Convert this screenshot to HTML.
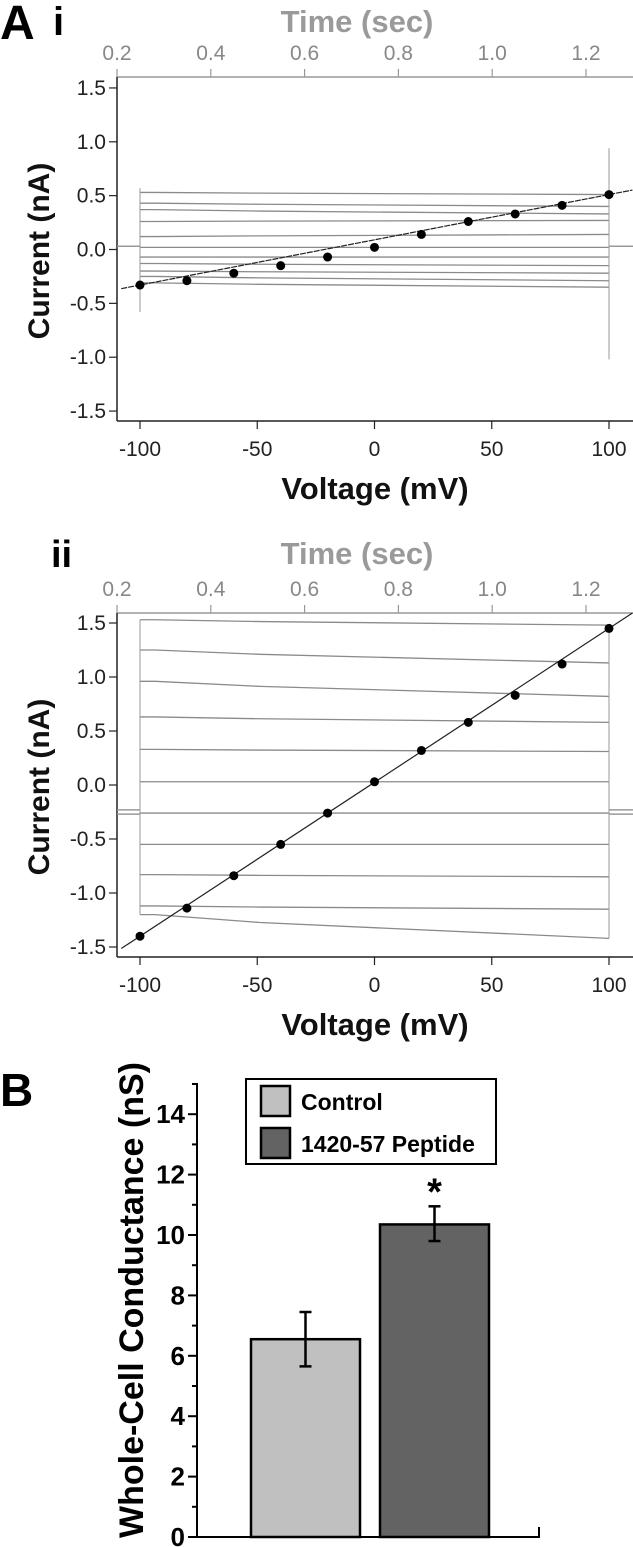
<!DOCTYPE html>
<html><head><meta charset="utf-8">
<style>
html,body{margin:0;padding:0;background:#fff;}
svg{display:block;font-family:"Liberation Sans",Arial,sans-serif;}
</style></head>
<body>
<svg id="fig" width="633" height="1547" viewBox="0 0 633 1547">
<text x="0" y="39" font-size="48" font-weight="bold">A</text>
<text x="53" y="35" font-size="40" font-weight="bold">i</text>
<text x="51" y="567" font-size="38" font-weight="bold">ii</text>
<text x="0" y="1106" font-size="46" font-weight="bold">B</text>
<g id="pA1"></g>
<g id="pA2"></g>
<g id="pB"></g>
</svg>
<script>
// ---- Panel Ai data ----
const voltagesA1 = [-100,-80,-60,-40,-20,0,20,40,60,80,100];
const currentsA1 = [-0.33,-0.29,-0.22,-0.15,-0.07,0.02,0.14,0.26,0.33,0.41,0.51];
const traceStartA1 = [0.53,0.43,0.37,0.26,0.12,0.02,-0.07,-0.13,-0.20,-0.25,-0.31];
const traceEndA1   = [0.51,0.40,0.33,0.27,0.14,0.02,-0.07,-0.15,-0.22,-0.29,-0.35];
const baselineA1 = [0.03];
const spikeA1 = [0.57,-0.58,0.94,-1.02];
// ---- Panel Aii data ----
const voltagesA2 = [-100,-80,-60,-40,-20,0,20,40,60,80,100];
const currentsA2 = [-1.40,-1.14,-0.84,-0.55,-0.26,0.03,0.32,0.58,0.83,1.12,1.45];
const traceStartA2 = [1.53,1.25,0.96,0.63,0.33,0.03,-0.26,-0.55,-0.83,-1.12,-1.20];
const traceEndA2   = [1.48,1.13,0.82,0.58,0.31,0.03,-0.26,-0.55,-0.85,-1.15,-1.42];
const baselineA2 = [-0.23,-0.27];
// ---- Axis ticks ----
const yTicksA = [1.5,1.0,0.5,0.0,-0.5,-1.0,-1.5];
const yTickLabelsA = ["1.5","1.0","0.5","0.0","-0.5","-1.0","-1.5"];
const xTicksA = [-100,-50,0,50,100];
const timeTicks = [0.2,0.4,0.6,0.8,1.0,1.2];
const timeTickLabels = ["0.2","0.4","0.6","0.8","1.0","1.2"];
// ---- Panel B data ----
const groups = ["Control","1420-57 Peptide"];
const means = [6.55,10.35];
const errLow = [5.65,9.8];
const errHigh = [7.45,10.95];
const yTicksB = [0,2,4,6,8,10,12,14];

const NS="http://www.w3.org/2000/svg";
function mk(parent,tag,attrs,text){const e=document.createElementNS(NS,tag);for(const k in attrs)e.setAttribute(k,attrs[k]);if(text!==undefined)e.textContent=text;parent.appendChild(e);return e;}

function ivPanel(g,o,volts,curs,tStart,tEnd,base,spike){
  const xv=v=>374.5+v*2.345;
  const yc=c=>o.y0-c*o.k;
  const xt=t=>117+(t-0.2)*469;
  const tx=mk(g,'text',{x:357,y:o.titleY,'font-size':31,'font-weight':'bold',fill:'#9a9a9a','text-anchor':'middle'},'Time (sec)');
  
  
  mk(g,'line',{x1:117,y1:o.top,x2:633,y2:o.top,stroke:'#999','stroke-width':1.5});
  timeTicks.forEach((t,i)=>{
    mk(g,'line',{x1:xt(t),y1:o.top,x2:xt(t),y2:o.top-8,stroke:'#999','stroke-width':1.2});
    const l=mk(g,'text',{x:xt(t),y:o.top-17,'font-size':21,fill:'#888','text-anchor':'middle'},timeTickLabels[i]);
    
    
  });
  mk(g,'line',{x1:117,y1:o.top,x2:117,y2:o.bot,stroke:'#222','stroke-width':1.5});
  mk(g,'line',{x1:117,y1:o.bot,x2:633,y2:o.bot,stroke:'#222','stroke-width':1.5});
  yTicksA.forEach((t,i)=>{
    mk(g,'line',{x1:109,y1:yc(t),x2:117,y2:yc(t),stroke:'#222','stroke-width':1.2});
    const l=mk(g,'text',{x:106,y:yc(t)+7,'font-size':21,fill:'#222','text-anchor':'end'},yTickLabelsA[i]);
    
    
  });
  xTicksA.forEach(t=>{
    mk(g,'line',{x1:xv(t),y1:o.bot,x2:xv(t),y2:o.bot+8,stroke:'#222','stroke-width':1.2});
    const l=mk(g,'text',{x:xv(t),y:o.bot+35,'font-size':21,fill:'#222','text-anchor':'middle'},String(t));
    
    
  });
  const yt=mk(g,'text',{x:0,y:0,'font-size':30,'font-weight':'bold',fill:'#111','text-anchor':'middle',transform:`translate(49,${(o.top+o.bot)/2+2}) rotate(-90)`},'Current (nA)');
  
  
  const xtt=mk(g,'text',{x:375,y:o.bot+78,'font-size':31,'font-weight':'bold',fill:'#111','text-anchor':'middle'},'Voltage (mV)');
  
  
  base.forEach(b=>{
    mk(g,'line',{x1:117,y1:yc(b),x2:xv(-100),y2:yc(b),stroke:'#999','stroke-width':1.5});
    mk(g,'line',{x1:xv(100),y1:yc(b),x2:633,y2:yc(b),stroke:'#999','stroke-width':1.5});
  });
  const x0=xv(-100),x1=xv(100);
  tStart.forEach((s,i)=>{
    const e=tEnd[i];
    const p=mk(g,'path',{d:`M${x0},${yc(s)} L${x0+15},${yc(s)} L${x0+120},${yc((s*2+e)/3)} L${x1},${yc(e)}`,fill:'none',stroke:'#8a8a8a','stroke-width':1.3});
    
    
  });
  mk(g,'line',{x1:x0,y1:yc(Math.max(...tStart)),x2:x0,y2:yc(Math.min(...tStart)),stroke:'#999','stroke-width':1});
  mk(g,'line',{x1:x1,y1:yc(Math.max(...tEnd)),x2:x1,y2:yc(Math.min(...tEnd)),stroke:'#999','stroke-width':1});
  if(spike){
    mk(g,'line',{x1:x0,y1:yc(spike[0]),x2:x0,y2:yc(spike[1]),stroke:'#999','stroke-width':1});
    mk(g,'line',{x1:x1,y1:yc(spike[2]),x2:x1,y2:yc(spike[3]),stroke:'#999','stroke-width':1});
  }
  const n=volts.length, s=(curs[n-1]-curs[0])/(volts[n-1]-volts[0]);
  const fa=-108, fb=110;
  let ya=curs[0]+s*(fa-volts[0]), yb=curs[0]+s*(fb-volts[0]);
  const fl=mk(g,'line',{x1:xv(fa),y1:yc(ya),x2:xv(fb),y2:yc(yb),stroke:'#222','stroke-width':1.2,'stroke-dasharray':o.dash});
  
  
  volts.forEach((v,i)=>{
    const c=mk(g,'circle',{cx:xv(v),cy:yc(curs[i]),r:4.5,fill:'#000'});
    
    
  });
}
ivPanel(document.getElementById('pA1'),{y0:249.5,k:107.7,top:77,bot:421,titleY:32,dash:'6 1'},voltagesA1,currentsA1,traceStartA1,traceEndA1,baselineA1,spikeA1);
ivPanel(document.getElementById('pA2'),{y0:785,k:108,top:613,bot:957,titleY:564,dash:'none'},voltagesA2,currentsA2,traceStartA2,traceEndA2,baselineA2,null);

(function(){
  const g=document.getElementById('pB');
  const yv=v=>1537-v*30.2;
  const ax=197;
  mk(g,'line',{x1:ax,y1:1083,x2:ax,y2:1538,stroke:'#000','stroke-width':2});
  mk(g,'line',{x1:ax-9,y1:1537,x2:540,y2:1537,stroke:'#000','stroke-width':2});
  mk(g,'line',{x1:539,y1:1537,x2:539,y2:1527,stroke:'#000','stroke-width':2});
  yTicksB.forEach(t=>{
    mk(g,'line',{x1:ax-9,y1:yv(t),x2:ax,y2:yv(t),stroke:'#000','stroke-width':2});
    mk(g,'line',{x1:ax-5,y1:yv(t+1),x2:ax,y2:yv(t+1),stroke:'#000','stroke-width':2});
    const l=mk(g,'text',{x:ax-12,y:yv(t)+9,'font-size':26,'font-weight':'bold','text-anchor':'end'},String(t));
    
    
  });
  const yt=mk(g,'text',{x:0,y:0,'font-size':34,'font-weight':'bold','text-anchor':'middle',transform:'translate(143,1300) rotate(-90)'},'Whole-Cell Conductance (nS)');
  
  
  const fills=['#c0c0c0','#636363'];
  const bx=[250,379];
  means.forEach((m,i)=>{
    const r=mk(g,'rect',{x:bx[i]+1,y:yv(m),width:109,height:1537-yv(m),fill:fills[i],stroke:'#000','stroke-width':2.5});
    
    
    const cx=bx[i]+55.5;
    mk(g,'line',{x1:cx,y1:yv(errLow[i]),x2:cx,y2:yv(errHigh[i]),stroke:'#000','stroke-width':2.5});
    mk(g,'line',{x1:cx-6,y1:yv(errLow[i]),x2:cx+6,y2:yv(errLow[i]),stroke:'#000','stroke-width':2.5});
    mk(g,'line',{x1:cx-6,y1:yv(errHigh[i]),x2:cx+6,y2:yv(errHigh[i]),stroke:'#000','stroke-width':2.5});
  });
  const st=mk(g,'text',{x:bx[1]+55.5,y:yv(errHigh[1])-2,'font-size':38,'font-weight':'bold','text-anchor':'middle'},'*');
  
  
  const lg=mk(g,'g',{});
  
  
  mk(lg,'rect',{x:246,y:1079,width:250,height:85,fill:'#fff',stroke:'#000','stroke-width':2});
  groups.forEach((nm,i)=>{
    const yy=1086+i*42;
    mk(lg,'rect',{x:261,y:yy,width:29,height:30,fill:fills[i],stroke:'#000','stroke-width':2.5});
    const t=mk(lg,'text',{x:301,y:yy+24,'font-size':23,'font-weight':'bold'},nm);
    
    
  });
})();
</script>
</body></html>
